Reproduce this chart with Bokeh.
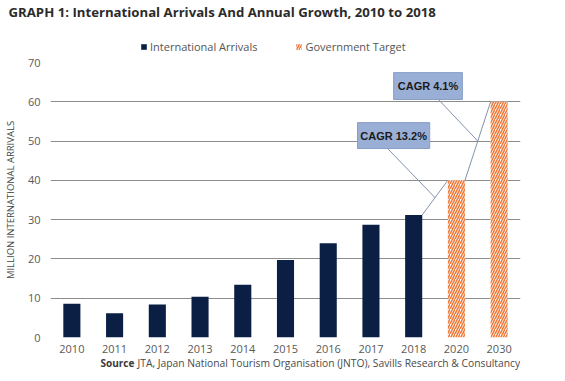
from bokeh.plotting import figure
from bokeh.models import Range1d, FixedTicker, Legend
from bokeh.layouts import column
from bokeh.core.properties import value
from bokeh.embed import file_html
from bokeh.resources import INLINE

# ---- data ----
years = ["2010", "2011", "2012", "2013", "2014", "2015", "2016", "2017", "2018", "2020", "2030"]
arrivals = [8.6, 6.2, 8.4, 10.4, 13.4, 19.7, 24.0, 28.7, 31.2]
target = [40, 60]
cagr_labels = ["CAGR 13.2%", "CAGR 4.1%"]
series_names = ["International Arrivals", "Government Target"]
title_text = "GRAPH 1: International Arrivals And Annual Growth, 2010 to 2018"
source_bold = "Source"
source_text = "JTA, Japan National Tourism Organisation (JNTO), Savills Research & Consultancy"

# ---- styles ----
NAVY = "#0b1f45"
ORANGE = "#ef7a3a"
GRID = "#8c8c8c"
TICK = "#595959"
BOX_FILL = "#9aafd6"
BOX_LINE = "#8a9ec6"
CONN = "#8393b0"
FONT = "Open Sans"
TOTAL_W = 565
LEFT, RIGHT = 50, 45
HEAD_H, MAIN_H, FOOT_H = 54, 303, 24

W = 0.4
idx = list(range(len(years)))
act_x = idx[:len(arrivals)]
tgt_x = idx[len(arrivals):]
HATCH = dict(hatch_pattern="/", hatch_color=ORANGE, hatch_weight=1.6, hatch_scale=5)


def strip(h):
    f = figure(width=TOTAL_W, height=h, output_backend="svg", toolbar_location=None,
               x_range=Range1d(LEFT, TOTAL_W - RIGHT), y_range=Range1d(h, 0),
               x_axis_location=None, y_axis_location=None,
               min_border_left=LEFT, min_border_right=RIGHT, min_border_top=0, min_border_bottom=0)
    f.outline_line_color = None
    f.xgrid.grid_line_color = None
    f.ygrid.grid_line_color = None
    return f


# ---- header: title + legend ----
head = strip(HEAD_H)
head.title.text = title_text
head.title.align = "left"
head.title.offset = -42
head.title.standoff = 0
head.title.text_font = FONT
head.title.text_font_style = "bold"
head.title.text_font_size = "13.2px"
head.title.text_color = "#2b2b2b"
# legend proxies (zero-height, outside view)
lr1 = head.vbar(x=[0], top=[0], width=1, fill_color=NAVY, line_color=None)
lr2 = head.vbar(x=[0], top=[0], width=1, fill_color="white", line_color=None, **HATCH)
legend = Legend(items=[(series_names[0], [lr1]), (series_names[1], [lr2])],
                orientation="horizontal", location=(90, 0))
legend.padding = 0
legend.margin = 0
legend.spacing = 38
legend.label_standoff = 3
legend.glyph_width = 7
legend.glyph_height = 7
legend.border_line_color = None
legend.background_fill_alpha = 0
legend.label_text_font = FONT
legend.label_text_font_size = "11px"
legend.label_text_color = "#555555"
head.add_layout(legend, "center")

# ---- main chart ----
p = figure(width=TOTAL_W, height=MAIN_H, output_backend="svg", toolbar_location=None,
           x_range=Range1d(-0.5, len(years) - 0.5), y_range=Range1d(0, 70),
           min_border_left=LEFT, min_border_right=RIGHT, min_border_top=8, min_border_bottom=20)
p.outline_line_color = None

p.vbar(x=act_x, top=arrivals, width=W, fill_color=NAVY, line_color=None)
p.vbar(x=tgt_x, top=target, width=W, fill_color="white", line_color=None, **HATCH)

# connectors between bar tops
seg_x0 = [act_x[-1] + W / 2, tgt_x[0] + W / 2]
seg_y0 = [arrivals[-1], target[0]]
seg_x1 = [tgt_x[0] - W / 2, tgt_x[1] - W / 2]
seg_y1 = [target[0], target[1]]
p.segment(x0=seg_x0, y0=seg_y0, x1=seg_x1, y1=seg_y1, line_color=CONN, line_width=1)

# callout boxes (offsets relative to connector midpoints)
mid_x = [(a + b) / 2 for a, b in zip(seg_x0, seg_x1)]
mid_y = [(a + b) / 2 for a, b in zip(seg_y0, seg_y1)]
box_dx = [-0.97, -1.165]
box_dy = [15.8, 14.0]
box_w = [1.69, 1.61]
box_h = [6.6, 6.85]
lead_dx = [-0.14, 0.245]
bx = [m + d for m, d in zip(mid_x, box_dx)]
by = [m + d for m, d in zip(mid_y, box_dy)]
p.segment(x0=[b + d for b, d in zip(bx, lead_dx)], y0=[b - h / 2 for b, h in zip(by, box_h)],
          x1=mid_x, y1=mid_y, line_color=CONN, line_width=1)
p.rect(x=bx, y=by, width=box_w, height=box_h, fill_color=BOX_FILL, line_color=BOX_LINE, line_width=1)
p.text(x=bx, y=by, text=cagr_labels, text_align="center", text_baseline="middle",
       text_font=value("Liberation Sans"), text_font_style="bold", text_font_size="11px",
       text_color="#1a1a1a")

# axis break marks
brk_x = [(tgt_x[0] + act_x[-1]) / 2, (tgt_x[0] + tgt_x[1]) / 2]
p.text(x=brk_x, y=[0, 0], text=["//", "//"], text_align="center", text_baseline="top",
       text_font=value(FONT), text_font_size="7px", text_color="#9a9a9a")

# axes
p.xaxis.ticker = FixedTicker(ticks=idx)
p.xaxis.major_label_overrides = {i: y for i, y in zip(idx, years)}
p.yaxis.ticker = FixedTicker(ticks=list(range(0, 71, 10)))
for ax in (p.xaxis, p.yaxis):
    ax.axis_line_color = None
    ax.major_tick_line_color = None
    ax.minor_tick_line_color = None
    ax.major_tick_out = 0
    ax.major_tick_in = 0
    ax.minor_tick_out = 0
    ax.minor_tick_in = 0
    ax.major_label_text_font = FONT
    ax.major_label_text_font_size = "11px"
    ax.major_label_text_color = TICK
p.xaxis.major_label_standoff = 7
p.yaxis.major_label_standoff = 10
p.yaxis.axis_label = "MILLION INTERNATIONAL ARRIVALS"
p.yaxis.axis_label_text_font = FONT
p.yaxis.axis_label_text_font_size = "9.5px"
p.yaxis.axis_label_text_font_style = "normal"
p.yaxis.axis_label_text_color = "#444444"
p.yaxis.axis_label_standoff = 8
p.xgrid.grid_line_color = None
p.ygrid.grid_line_color = GRID
p.ygrid.grid_line_width = 1

# ---- footer: source ----
foot = strip(FOOT_H)
foot.text(x=[100], y=[5], text=[source_bold], text_font=value(FONT), text_font_style="bold",
          text_font_size="10px", text_color="#3a3a3a", text_baseline="middle")
foot.text(x=[137], y=[5], text=[source_text], text_font=value(FONT),
          text_font_size="10.3px", text_color="#4a4a4a", text_baseline="middle")

layout = column(head, p, foot, spacing=0)
open("out.html", "w").write(file_html(layout, INLINE))
